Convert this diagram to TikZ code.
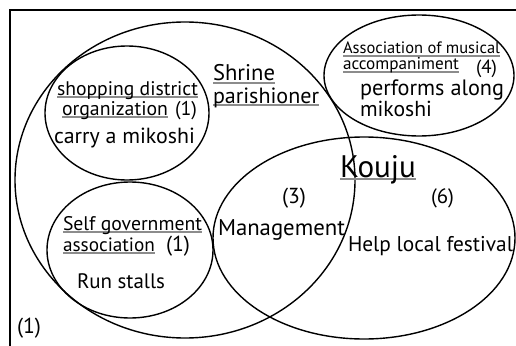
\documentclass[tikz,border=0pt]{standalone}
\usepackage{fontspec}
\setmainfont{PT Sans}
\usetikzlibrary{shapes.geometric}
\definecolor{ulgray}{gray}{0.55}
\newsavebox\ulbox
\newsavebox\measbox
\newcommand\gul[1]{\sbox\ulbox{#1}\rlap{\color{ulgray}\rule[-2.6pt]{\wd\ulbox}{1.2pt}}\usebox\ulbox}
\newcommand\fitw[2]{\sbox\measbox{\fontsize{10}{12}\selectfont #2}%
  \pgfmathsetmacro\fsz{10*#1/\the\wd\measbox}%
  \fontsize{\fsz}{\fsz}\selectfont #2}
\begin{document}
\begin{tikzpicture}[x=1pt,y=-1pt,
  set/.style={ellipse, draw, line width=1.4pt, inner sep=0pt, outer sep=0pt},
  lbl/.style={anchor=base west, inner sep=0pt, outer sep=0pt}]
\useasboundingbox (0,0) rectangle (516,345);
\coordinate (fb) at (10,350);
\coordinate (fc) at (10,10);
\coordinate (fr) at (520,10);
\draw[line width=2pt] (fb) -- (fc) -- (fr);
\node[set, minimum width=340pt, minimum height=316pt] (shrine) at (185,180) {};
\node[set, minimum width=164pt, minimum height=134pt] (shop) at (127,113) {};
\node[set, minimum width=166pt, minimum height=136pt] (self) at (130,250) {};
\node[set, minimum width=302pt, minimum height=202pt] (kouju) at (364,238) {};
\node[set, minimum width=190pt, minimum height=121pt] (assoc) at (419,75.5) {};
\node[lbl] (sd1) at (57,95) {\fitw{141}{\gul{shopping district}}};
\node[lbl] (sd2) at (62,115) {\fitw{106}{\gul{organization}}};
\node[lbl] (sd2n) at (175,115) {\fitw{22}{(1)}};
\node[lbl] (sd3) at (54,143) {\fitw{141}{carry a mikoshi}};
\node[lbl] (sh1) at (213,81) {\fitw{62}{\gul{Shrine}}};
\node[lbl] (sh2) at (213,103) {\fitw{106}{\gul{parishioner}}};
\node[lbl] (as1) at (343,54) {\fitw{157}{\gul{Association of musical}}};
\node[lbl] (as2) at (343,70) {\fitw{116}{\gul{accompaniment}}};
\node[lbl] (as3) at (476,73) {\fitw{21}{(4)}};
\node[lbl] (as4) at (360,95) {\fitw{144}{performs along}};
\node[lbl] (as5) at (360,116) {\fitw{72}{mikoshi}};
\node[lbl] (kj) at (340,177) {\fitw{76}{\gul{Kouju}}};
\node[lbl] (n3) at (282,203) {\fitw{24}{(3)}};
\node[lbl] (n6) at (431,203) {\fitw{23}{(6)}};
\node[lbl] (mg) at (218,235) {\fitw{127}{Management}};
\node[lbl] (hl) at (348,251) {\fitw{165}{Help local festival}};
\node[lbl] (sg1) at (63,230) {\fitw{139}{\gul{Self government}}};
\node[lbl] (sg2) at (63,251) {\fitw{92}{\gul{association}}};
\node[lbl] (sg2n) at (166,251) {\fitw{24}{(1)}};
\node[lbl] (rs) at (77,288) {\fitw{88}{Run stalls}};
\node[lbl] (o1) at (17,333) {\fitw{24}{(1)}};
\end{tikzpicture}
\end{document}
